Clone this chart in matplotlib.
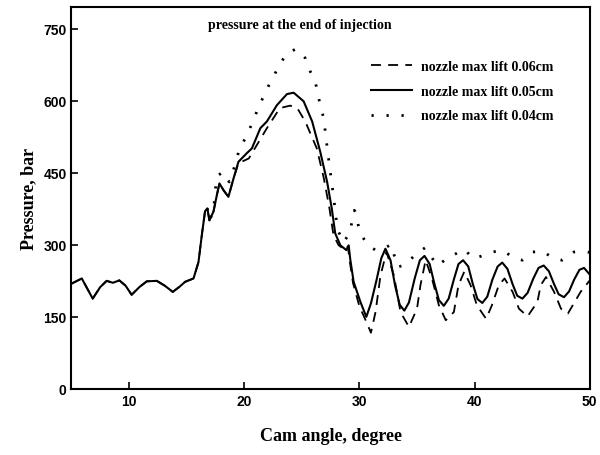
import matplotlib.pyplot as plt

# shared part of all three curves (before the lines split)
x_common = [5.0, 5.9, 6.85, 7.5, 8.06, 8.6, 9.16, 9.7, 10.23, 10.9, 11.54, 12.41, 13.1, 13.8,
            14.4, 14.87, 15.6, 16.03, 16.32, 16.6, 16.8, 16.98, 17.33]
y_common = [219, 230, 188, 212, 225, 221, 226, 215, 196, 212, 224, 225, 215, 202,
            213, 223, 230, 264, 320, 370, 376, 351, 369]

# nozzle max lift 0.05cm (solid)
x_05 = [17.63, 17.85, 18.2, 18.63, 19.07, 19.5, 20.23, 20.67, 21.4, 21.97, 22.84, 23.71, 24.29,
        25.16, 25.9, 26.6, 27.2, 27.6, 27.9, 28.35, 28.87, 29.07, 29.2, 29.5, 30.09, 30.6,
        31.0, 31.5, 31.9, 32.26, 32.7, 33.1, 33.5, 33.9, 34.3, 34.8, 35.25, 35.65, 36.1, 36.5,
        36.9, 37.33, 37.75, 38.2, 38.6, 39.0, 39.45, 39.85, 40.25, 40.67, 41.1, 41.55, 42.0,
        42.4, 42.85, 43.3, 43.7, 44.15, 44.6, 45.1, 45.55, 46.0, 46.45, 46.9, 47.3, 47.76,
        48.2, 48.65, 49.1, 49.5, 50.0]
y_05 = [404, 428, 414, 400, 438, 473, 491, 501, 543, 557, 591, 614, 617,
        599, 557, 494, 431, 376, 324, 299, 289, 299, 271, 223, 181, 150,
        178, 228, 272, 292, 268, 215, 175, 163, 180, 230, 268, 277, 260, 220,
        185, 173, 188, 228, 260, 268, 255, 218, 187, 179, 192, 228, 255,
        263, 250, 218, 194, 188, 200, 230, 252, 257, 245, 218, 197, 191,
        203, 228, 248, 252, 238]

# nozzle max lift 0.06cm (dashed)
x_06 = [17.63, 17.85, 18.2, 18.63, 19.07, 19.5, 20.4, 21.1, 21.97, 23.1, 24.0, 24.6, 25.3,
        26.3, 26.9, 27.4, 27.75, 28.2, 28.8, 29.0, 29.15, 29.45, 30.0, 30.67, 31.0, 31.4,
        31.83, 32.35, 33.0, 33.57, 34.3, 35.0, 35.3, 35.75, 36.3, 36.9, 37.5, 38.2, 38.6,
        39.1, 39.65, 40.2, 41.0, 41.5, 42.1, 42.6, 43.3, 43.85, 44.6, 45.45, 45.74, 46.2,
        46.9, 47.5, 48.1, 49.2, 50.0]
y_06 = [404, 428, 414, 400, 438, 470, 480, 508, 543, 585, 590, 585, 557,
        501, 440, 376, 320, 299, 289, 297, 268, 220, 172, 136, 117, 160,
        236, 285, 236, 160, 129, 167, 216, 268, 230, 174, 143, 160, 216,
        244, 216, 174, 146, 174, 216, 230, 202, 167, 151, 181, 216, 233,
        202, 167, 157, 202, 226]

# nozzle max lift 0.04cm (dotted)
x_04 = [17.6, 18.15, 18.7, 19.07, 19.65, 20.2, 20.67, 21.33, 22.0, 22.55, 23.07, 23.7, 24.5,
        25.3, 25.74, 26.17, 26.6, 26.9, 27.24, 27.5, 27.77, 28.0, 28.2, 28.6, 29.15, 29.36,
        29.56, 29.8, 29.9, 30.09, 30.7, 31.4, 32.2, 32.76, 33.3, 33.85, 35.0, 35.7, 36.75,
        37.6, 39.07, 39.94, 41.54, 42.4, 43.28, 44.15, 45.0, 45.9, 46.76, 47.6, 48.6, 49.5,
        50.0]
y_04 = [442, 452, 431, 456, 505, 525, 553, 591, 626, 651, 675, 699, 708,
        689, 661, 640, 591, 564, 495, 447, 398, 351, 327, 305, 324, 349,
        372, 362, 341, 324, 300, 289, 293, 301, 254, 257, 282, 294, 257,
        271, 291, 271, 285, 289, 275, 268, 285, 287, 273, 268, 285, 287,
        284]

labels = ['nozzle max lift 0.06cm', 'nozzle max lift 0.05cm', 'nozzle max lift 0.04cm']
x_ticks = [10, 20, 30, 40, 50]
y_ticks = [0, 150, 300, 450, 600, 750]

serif = 'Liberation Serif'
sans = 'Liberation Sans'

fig = plt.figure(figsize=(6, 4.56), dpi=100)
ax = fig.add_axes([0.119, 0.145, 0.864, 0.837])

ax.plot(x_common + x_06, y_common + y_06, color='black', lw=1.3, ls=(0, (5.5, 4)), label=labels[0])
ax.plot(x_common + x_05, y_common + y_05, color='black', lw=1.5, ls='-', label=labels[1])
ax.plot(x_common[-3:] + x_04, y_common[-3:] + y_04, color='black', lw=2.0, ls=(0, (0.8, 4.6)),
        label=labels[2])

ax.set_xlim(5, 50)
ax.set_ylim(0, 795)
ax.set_xticks(x_ticks)
ax.set_yticks(y_ticks)
ax.tick_params(direction='in', length=5, width=1.2, labelsize=10)
for lab in ax.get_xticklabels() + ax.get_yticklabels():
    lab.set_fontfamily(sans)
    lab.set_fontweight('bold')
for sp in ax.spines.values():
    sp.set_linewidth(1.5)

ax.set_xlabel('Cam angle, degree', fontsize=13, fontweight='bold', family=serif, labelpad=14)
ax.set_ylabel('Pressure, bar', fontsize=13, fontweight='bold', family=serif, labelpad=4)

ax.text(0.44, 0.955, 'pressure at the end of injection', transform=ax.transAxes,
        ha='center', va='center', fontsize=10, fontweight='bold', family=serif)

leg = ax.legend(loc='upper right', bbox_to_anchor=(0.955, 0.895), frameon=False,
                prop={'family': serif, 'size': 10, 'weight': 'bold'},
                handlelength=2.9, labelspacing=0.85, handletextpad=0.7)

fig.savefig('out.png', dpi=100)
